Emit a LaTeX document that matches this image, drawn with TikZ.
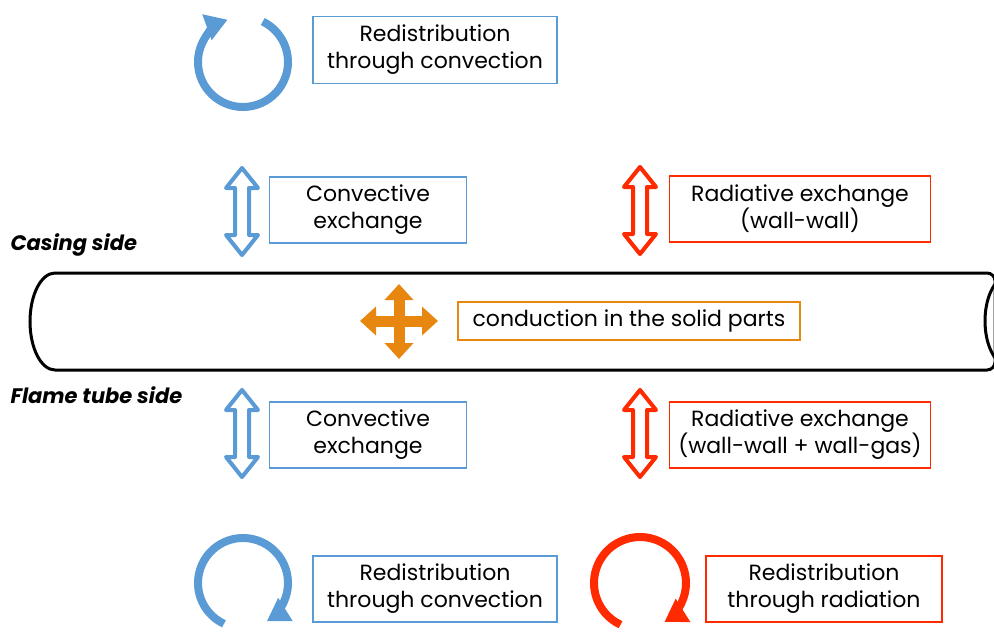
\documentclass[tikz,border=0pt]{standalone}
\usepackage{fontspec}
\setmainfont{Poppins}
\usetikzlibrary{arrows.meta}

\definecolor{convblue}{HTML}{5B9BD5}
\definecolor{radred}{HTML}{FF2A00}
\definecolor{condorange}{HTML}{E8870F}

\tikzset{
	infobox/.style = {draw = #1, line width = 1.3pt, align = center, inner xsep = 6pt, inner ysep = 5pt},
	sidelabel/.style = {anchor = west, font = \fontsize{21}{24}\selectfont\bfseries\itshape},
	loop/.style = {draw = #1, line width = 8pt, -{Triangle[length = 22pt, width = 26pt]}},
	hollow/.style = {draw = #1, fill = white, line width = 4pt, line join = round}
}

\begin{document}
\begin{tikzpicture}[x = 1pt, y = -1pt, font = \fontsize{22}{27}\selectfont]

	\useasboundingbox (0, 0) rectangle (994, 637);

	% tube
	\draw [line width = 3pt, rounded corners = 8pt] (55, 273) -- (995, 273) -- (995, 370) -- (55, 370);
	\draw [line width = 3pt] (55, 273) arc [start angle = 270, end angle = 90, x radius = 25, y radius = 48.5];
	\draw [line width = 3pt] (1010, 275) arc [start angle = 270, end angle = 90, x radius = 25, y radius = 46];

	\node [sidelabel] (casing) at (7, 245) {Casing side};
	\node [sidelabel] (flame) at (7, 395) {Flame tube side};

	% text boxes
	\node [infobox = convblue, minimum width = 244, minimum height = 67] (redtop) at (435, 50) {Redistribution\\through convection};
	\node [infobox = convblue, minimum width = 197, minimum height = 66] (convtop) at (368, 210) {Convective\\exchange};
	\node [infobox = radred, minimum width = 261, minimum height = 66] (radtop) at (800, 209) {Radiative exchange\\(wall-wall)};
	\node [infobox = condorange, minimum width = 342, minimum height = 38] (cond) at (629, 321) {conduction in the solid parts};
	\node [infobox = convblue, minimum width = 197, minimum height = 66] (convbot) at (368, 435) {Convective\\exchange};
	\node [infobox = radred, minimum width = 261, minimum height = 66] (radbot) at (800, 435) {Radiative exchange\\(wall-wall + wall-gas)};
	\node [infobox = convblue, minimum width = 244, minimum height = 66] (redconv) at (435, 589) {Redistribution\\through convection};
	\node [infobox = radred, minimum width = 236, minimum height = 66] (redrad) at (824, 589) {Redistribution\\through radiation};

	% exchange arrows
	\foreach \x/\y/\c in {242/168/convblue, 242/390/convblue, 640/167/radred, 640/390/radred}
		\draw [hollow = \c] (\x, \y) -- ++(16, 20) -- ++(-9, 0) -- ++(0, 47) -- ++(9, 0) -- ++(-16, 20)
			-- ++(-16, -20) -- ++(9, 0) -- ++(0, -47) -- ++(-9, 0) -- cycle;

	% conduction cross
	\coordinate (cross) at (399, 321);
	\draw [condorange, line width = 11pt, {Triangle[length = 16pt, width = 28pt]}-{Triangle[length = 16pt, width = 28pt]}] (360, 321) -- (438, 321);
	\draw [condorange, line width = 11pt, {Triangle[length = 16pt, width = 28pt]}-{Triangle[length = 16pt, width = 28pt]}] (399, 284) -- (399, 359);

	% redistribution loops
	\draw [loop = convblue] (243, 62) ++(-64:45) arc [start angle = -64, end angle = 250, radius = 45];
	\draw [loop = convblue] (243, 583) ++(115:45) arc [start angle = 115, end angle = 418, radius = 45];
	\draw [loop = radred] (640, 583) ++(115:46) arc [start angle = 115, end angle = 418, radius = 46];

\end{tikzpicture}
\end{document}
